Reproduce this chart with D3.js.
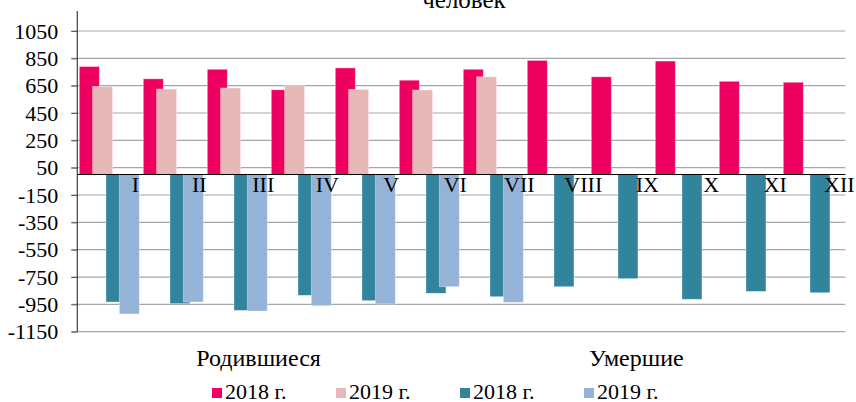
<!DOCTYPE html>
<html>
<head>
<meta charset="utf-8">
<script src="https://cdn.jsdelivr.net/npm/d3@7"></script>
<style>
  body { margin: 0; background: #fff; }
</style>
</head>
<body>
<div id="chart"></div>
<script>
// Births / deaths by month, 2018 vs 2019 (persons)
const W = 856, H = 402;
const FONT = "'Liberation Serif', 'Times New Roman', Times, serif";

const months = ["I", "II", "III", "IV", "V", "VI", "VII", "VIII", "IX", "X", "XI", "XII"];
const births2018 = [790, 700, 770, 620, 780, 690, 770, 835, 715, 830, 682, 675];
const births2019 = [645, 625, 633, 650, 623, 618, 715];
const deaths2018 = [-933, -945, -994, -884, -923, -869, -894, -821, -762, -913, -855, -865];
const deaths2019 = [-1020, -933, -999, -960, -947, -821, -935];
const yTicks = [-1150, -950, -750, -550, -350, -150, 50, 250, 450, 650, 850, 1050];
const groupLabels = ["Родившиеся", "Умершие"];
const legendLabels = ["2018 г.", "2019 г.", "2018 г.", "2019 г."];
const colors = ["#ee0060", "#e6b8b7", "#31849b", "#95b3d7"];
const title = "человек";

const series = [births2018, births2019, deaths2018, deaths2019];

const svg = d3.select("#chart").append("svg").attr("width", W).attr("height", H)
  .style("font-family", FONT);
const plotL = 77.3, plotR = 845.3;

const x = d3.scaleBand().domain(months).range([plotL, plotR]).paddingInner(0);
const y = d3.scaleLinear().domain([-1150, 1050]).range([331.7, 31]);
// offset of each series inside a month slot (bars overlap)
const sx = d3.scaleLinear().domain([0, 3]).range([2, 42]);
const barW = 20;

// title (cut at top like the original)
svg.append("text").attr("x", 464).attr("y", 8)
  .attr("text-anchor", "middle").attr("font-size", 25)
  .style("font-family", FONT).text(title);

// gridlines
svg.append("g").selectAll("line").data(yTicks).join("line")
  .attr("x1", plotL - 6).attr("x2", plotR)
  .attr("y1", d => y(d)).attr("y2", d => y(d))
  .attr("stroke", "#a6a6a6").attr("stroke-width", 1.2);

// y axis
const yAxis = d3.axisLeft(y).tickValues(yTicks).tickSize(6).tickPadding(13)
  .tickFormat(d => String(d));
const ya = svg.append("g").attr("transform", `translate(${plotL},0)`).call(yAxis);
ya.select(".domain").remove();
ya.attr("font-family", null).attr("font-size", null);
ya.selectAll(".tick line").attr("stroke", "#595959");
ya.selectAll(".tick text").attr("font-size", 22).attr("fill", "#000")
  .attr("x", -19).style("font-family", FONT);
svg.append("line").attr("x1", plotL).attr("x2", plotL)
  .attr("y1", 11).attr("y2", y(-1150))
  .attr("stroke", "#404040").attr("stroke-width", 1.2);

// bars
series.forEach((vals, s) => {
  svg.append("g").selectAll("rect").data(vals).join("rect")
    .attr("x", (d, i) => x(months[i]) + sx(s))
    .attr("width", barW)
    .attr("y", d => y(Math.max(0, d)))
    .attr("height", d => Math.abs(y(d) - y(0)))
    .attr("fill", colors[s])
    .attr("stroke", "#fff").attr("stroke-opacity", 0.45).attr("stroke-width", 0.8);
});

// zero line
svg.append("line").attr("x1", plotL).attr("x2", plotR)
  .attr("y1", y(0)).attr("y2", y(0))
  .attr("stroke", "#000").attr("stroke-width", 1.2);

// month labels
svg.append("g").selectAll("text").data(months).join("text")
  .attr("x", d => x(d) + x.bandwidth() / 2 + 26)
  .attr("y", 192)
  .attr("text-anchor", "middle").attr("font-size", 22)
  .style("font-family", FONT)
  .text(d => d);

// group labels
const gx = d3.scaleLinear().domain([0, 1]).range([plotL, plotR]);
svg.append("g").selectAll("text").data(groupLabels).join("text")
  .attr("x", (d, i) => gx([0.236, 0.728][i]))
  .attr("y", 366)
  .attr("text-anchor", "middle").attr("font-size", 24)
  .style("font-family", FONT)
  .text(d => d);

// legend
const lg = svg.append("g").selectAll("g").data(legendLabels).join("g")
  .attr("transform", (d, i) => `translate(${212 + i * 124},0)`);
lg.append("rect").attr("x", 0).attr("y", 388).attr("width", 10).attr("height", 10)
  .attr("fill", (d, i) => colors[i]);
lg.append("text").attr("x", 13).attr("y", 398.5).attr("font-size", 22)
  .style("font-family", FONT).text(d => d);
</script>
</body>
</html>
